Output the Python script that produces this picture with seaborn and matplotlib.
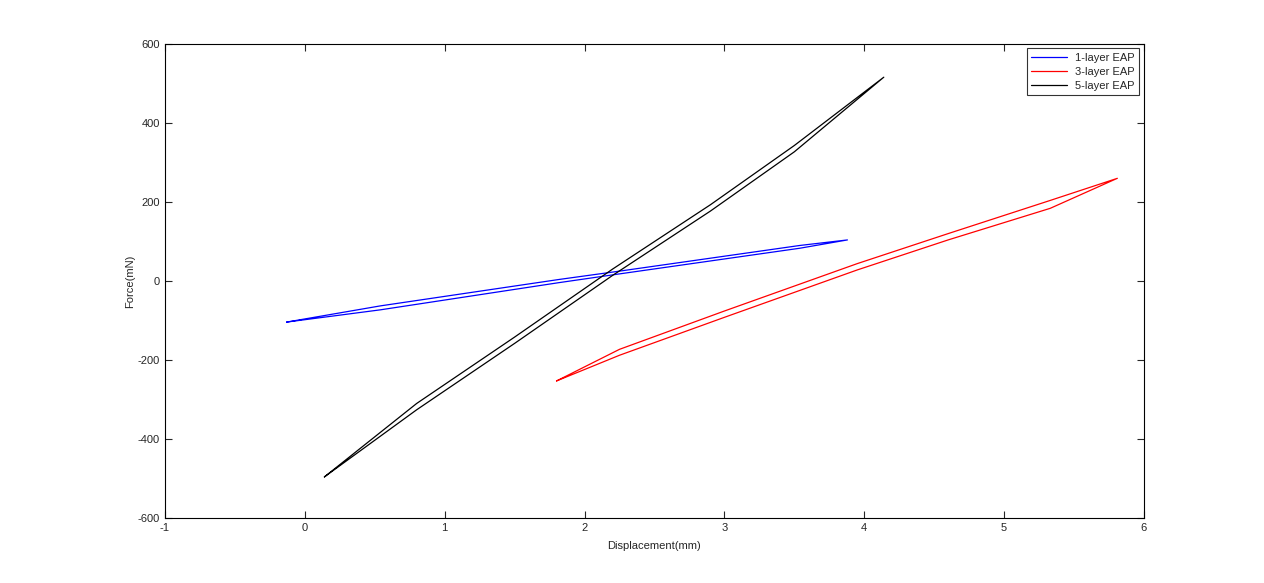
import numpy as np
import pandas as pd
import matplotlib
matplotlib.use("Agg")
import matplotlib.pyplot as plt
import seaborn as sns

# loop branches (upper branch left->right, lower branch right->left)
blue_up_x = [-0.13, 0.54, 1.82, 2.25, 3.54, 3.88]
blue_up_y = [-104, -63, 4, 25, 90, 104]
blue_lo_x = [3.88, 3.54, 2.25, 1.82, 0.54, -0.13]
blue_lo_y = [104, 83, 18, -4, -73, -104]

red_up_x = [1.80, 2.25, 3.00, 3.95, 4.60, 5.33, 5.81]
red_up_y = [-253, -173, -76, 44, 120, 204, 260]
red_lo_x = [5.81, 5.33, 4.60, 3.95, 3.00, 2.25, 1.80]
red_lo_y = [260, 184, 104, 28, -92, -188, -253]

black_up_x = [0.14, 0.80, 1.50, 2.20, 2.90, 3.50, 4.14]
black_up_y = [-496, -310, -142, 30, 193, 343, 516]
black_lo_x = [4.14, 3.50, 2.90, 2.20, 1.50, 0.80, 0.14]
black_lo_y = [516, 327, 177, 14, -158, -326, -496]

labels = ["1-layer EAP", "3-layer EAP", "5-layer EAP"]
colors = ["#0000ff", "#ff0000", "#000000"]

rows = []
for lab, xs, ys in [(labels[0], blue_up_x + blue_lo_x, blue_up_y + blue_lo_y),
                    (labels[1], red_up_x + red_lo_x, red_up_y + red_lo_y),
                    (labels[2], black_up_x + black_lo_x, black_up_y + black_lo_y)]:
    for i, (x, y) in enumerate(zip(xs, ys)):
        rows.append({"layer": lab, "order": i, "Displacement": x, "Force": y})
df = pd.DataFrame(rows)

sns.set_style("ticks")
plt.rcParams["font.family"] = ["Liberation Sans", "DejaVu Sans"]
plt.rcParams["axes.unicode_minus"] = False
plt.rcParams["xtick.direction"] = "in"
plt.rcParams["ytick.direction"] = "in"

fig = plt.figure(figsize=(12.64, 5.83), dpi=100)
ax = fig.add_axes([0.1305, 0.1115, 0.7745, 0.813])

sns.lineplot(data=df, x="Displacement", y="Force", hue="layer", units="layer",
             estimator=None, sort=False, palette=dict(zip(labels, colors)),
             linewidth=0.9, ax=ax)

ax.set_xlim(-1, 6)
ax.set_ylim(-600, 600)
ax.set_xticks(range(-1, 7))
ax.set_yticks(range(-600, 601, 200))
ax.tick_params(top=True, right=True, labelsize=8, length=5, width=0.8)
for s in ax.spines.values():
    s.set_linewidth(0.8)
    s.set_color("black")
ax.set_xlabel("Displacement(mm)", fontsize=8, labelpad=6)
ax.set_ylabel("Force(mN)", fontsize=8, labelpad=2)

leg = ax.legend(loc="upper right", fontsize=8, frameon=True, fancybox=False,
                handlelength=3.2, borderaxespad=0.4, labelspacing=0.35)
leg.get_frame().set_edgecolor("black")
leg.get_frame().set_linewidth(0.8)
leg.set_title(None)

fig.savefig("out.png", dpi=100)
